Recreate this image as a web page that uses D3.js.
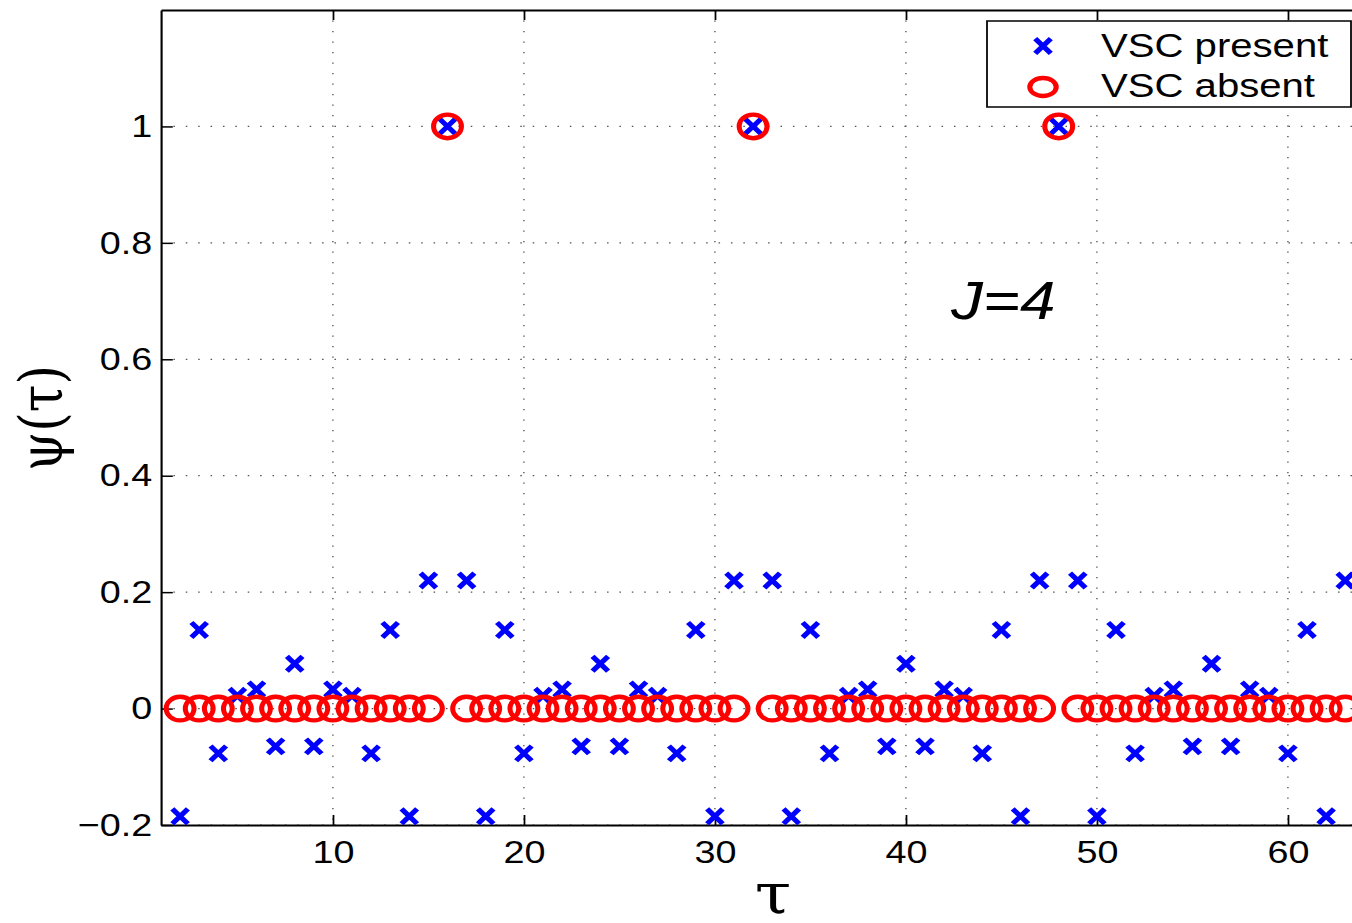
<!DOCTYPE html>
<html>
<head>
<meta charset="utf-8">
<script src="https://cdn.jsdelivr.net/npm/d3@7"></script>
<style>
  body { margin: 0; background: white; }
  svg { display: block; }
</style>
</head>
<body>
<script>
// tau values (2..63)
const tau = [2, 3, 4, 5, 6, 7, 8, 9, 10, 11, 12, 13, 14, 15, 16, 17,
             18, 19, 20, 21, 22, 23, 24, 25, 26, 27, 28, 29, 30, 31, 32, 33,
             34, 35, 36, 37, 38, 39, 40, 41, 42, 43, 44, 45, 46, 47, 48, 49,
             50, 51, 52, 53, 54, 55, 56, 57, 58, 59, 60, 61, 62, 63];

const vscPresent = [-0.185, 0.135, -0.077, 0.022, 0.033, -0.065, 0.077, -0.065, 0.033, 0.022, -0.077, 0.135, -0.185, 0.22, 1, 0.22,
                    -0.185, 0.135, -0.077, 0.022, 0.033, -0.065, 0.077, -0.065, 0.033, 0.022, -0.077, 0.135, -0.185, 0.22, 1, 0.22,
                    -0.185, 0.135, -0.077, 0.022, 0.033, -0.065, 0.077, -0.065, 0.033, 0.022, -0.077, 0.135, -0.185, 0.22, 1, 0.22,
                    -0.185, 0.135, -0.077, 0.022, 0.033, -0.065, 0.077, -0.065, 0.033, 0.022, -0.077, 0.135, -0.185, 0.22];

const vscAbsent = [0, 0, 0, 0, 0, 0, 0, 0, 0, 0, 0, 0, 0, 0, 1, 0,
                   0, 0, 0, 0, 0, 0, 0, 0, 0, 0, 0, 0, 0, 0, 1, 0,
                   0, 0, 0, 0, 0, 0, 0, 0, 0, 0, 0, 0, 0, 0, 1, 0,
                   0, 0, 0, 0, 0, 0, 0, 0, 0, 0, 0, 0, 0, 0];

const xTicks = [10, 20, 30, 40, 50, 60];
const yTicks = [-0.2, 0, 0.2, 0.4, 0.6, 0.8, 1];
const legendLabels = ["VSC present", "VSC absent"];

const WIDTH = 1352;
const HEIGHT = 923;
const SX = 1.18;            // the original figure is stretched horizontally
const VBW = WIDTH / SX;
const FONT = "'Liberation Sans', Arial, Helvetica, sans-serif";
const SERIF = "'DejaVu Serif', 'Liberation Serif', serif";

const svg = d3.select("body")
              .append("svg")
              .attr("width", WIDTH)
              .attr("height", HEIGHT)
              .attr("viewBox", `0 0 ${VBW} ${HEIGHT}`)
              .attr("preserveAspectRatio", "none");

const x = d3.scaleLinear().domain([1, 64]).range([161 / SX, (161 + 63 * 19.1) / SX]);
const y = d3.scaleLinear().domain([-0.2, 1.2]).range([825, 10]);

const fmt = d => String(d).replace("-", "\u2212");

// grid
const grid = svg.append("g")
                .attr("stroke", "#555")
                .attr("stroke-width", 1.2)
                .attr("stroke-dasharray", "1.3,9.2");

grid.selectAll(".gx")
    .data(xTicks)
    .join("line")
    .attr("x1", d => x(d))
    .attr("x2", d => x(d))
    .attr("y1", y(1.2))
    .attr("y2", y(-0.2));

grid.selectAll(".gy")
    .data(yTicks)
    .join("line")
    .attr("x1", x(1))
    .attr("x2", VBW)
    .attr("y1", d => y(d))
    .attr("y2", d => y(d));

// axes
const styleAxis = g => {
  g.select(".domain").attr("stroke", "#000").attr("stroke-width", 1.8);
  g.selectAll(".tick line").attr("stroke", "#000").attr("stroke-width", 1.5);
  g.selectAll("text").attr("font-family", FONT).attr("font-size", 32).attr("fill", "#000");
};

svg.append("g")
   .attr("transform", `translate(0,${y(-0.2)})`)
   .call(d3.axisBottom(x).tickValues(xTicks).tickFormat(fmt).tickSizeInner(-10).tickSizeOuter(0).tickPadding(15.5))
   .call(styleAxis);

svg.append("g")
   .attr("transform", `translate(0,${y(1.2)})`)
   .call(d3.axisTop(x).tickValues(xTicks).tickFormat("").tickSizeInner(-10).tickSizeOuter(0))
   .call(styleAxis);

svg.append("g")
   .attr("transform", `translate(${x(1)},0)`)
   .call(d3.axisLeft(y).tickValues(yTicks).tickFormat(fmt).tickSizeInner(-10).tickSizeOuter(0).tickPadding(7.5))
   .call(styleAxis);

// markers
const crossPath = (a, b) => `M${-a},${-b}L${a},${b}M${-a},${b}L${a},${-b}`;

svg.append("g")
   .selectAll("path")
   .data(tau)
   .join("path")
   .attr("transform", (d, i) => `translate(${x(d)},${y(vscPresent[i])})`)
   .attr("d", crossPath(6.6, 7.4))
   .attr("fill", "none")
   .attr("stroke", "#0000ff")
   .attr("stroke-width", 4.6);

svg.append("g")
   .selectAll("circle")
   .data(tau)
   .join("circle")
   .attr("cx", d => x(d))
   .attr("cy", (d, i) => y(vscAbsent[i]))
   .attr("r", 11.8)
   .attr("fill", "none")
   .attr("stroke", "#ff0000")
   .attr("stroke-width", 4.3);

// axis labels
svg.append("text")
   .attr("transform", `translate(${62 / SX},418) rotate(-90)`)
   .attr("text-anchor", "middle")
   .attr("font-family", SERIF)
   .attr("font-size", 50)
   .text("\u03C8(\u03C4)");

svg.append("text")
   .attr("x", 773 / SX)
   .attr("y", 913)
   .attr("text-anchor", "middle")
   .attr("font-family", SERIF)
   .attr("font-size", 56)
   .text("\u03C4");

svg.append("text")
   .attr("x", 951 / SX)
   .attr("y", 319)
   .attr("font-family", FONT)
   .attr("font-style", "italic")
   .attr("font-size", 54)
   .text("J=4");

// legend
const legend = svg.append("g");

legend.append("rect")
      .attr("x", 987 / SX)
      .attr("y", 21)
      .attr("width", (1351 - 987) / SX)
      .attr("height", 86)
      .attr("fill", "white")
      .attr("stroke", "#000")
      .attr("stroke-width", 1.5);

legend.append("path")
      .attr("transform", `translate(${1043 / SX},46)`)
      .attr("d", crossPath(6.6, 7.4))
      .attr("fill", "none")
      .attr("stroke", "#0000ff")
      .attr("stroke-width", 4.6);

legend.append("ellipse")
      .attr("cx", 1043 / SX)
      .attr("cy", 87)
      .attr("rx", 11.2)
      .attr("ry", 9)
      .attr("fill", "none")
      .attr("stroke", "#ff0000")
      .attr("stroke-width", 4.3);

legend.selectAll(".lt")
      .data(legendLabels)
      .join("text")
      .attr("x", 1101 / SX)
      .attr("y", (d, i) => 57 + i * 40)
      .attr("font-family", FONT)
      .attr("font-size", 34)
      .text(d => d);
</script>
</body>
</html>
